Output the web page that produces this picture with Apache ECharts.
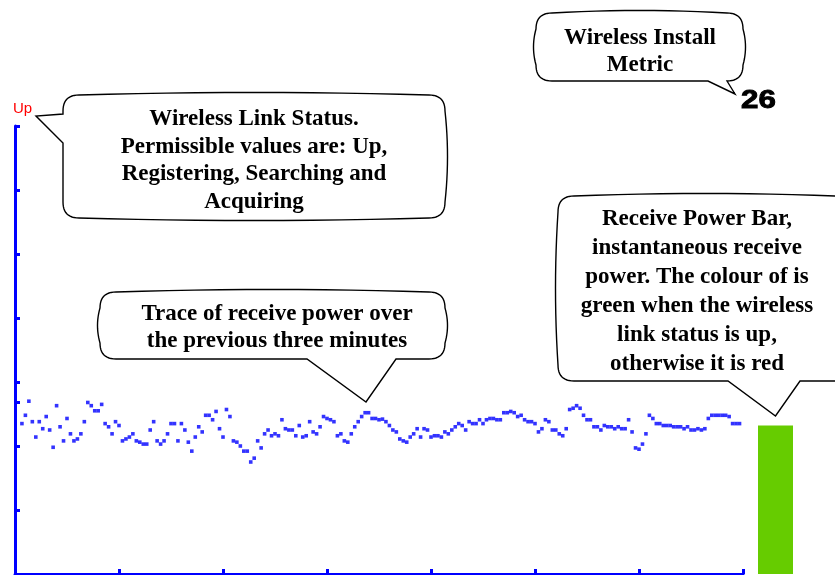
<!DOCTYPE html>
<html>
<head>
<meta charset="utf-8">
<script src="https://cdn.jsdelivr.net/npm/echarts@6/dist/echarts.min.js"></script>
<style>
html,body{margin:0;padding:0;background:#fff;}
#chart{width:835px;height:575px;}
</style>
</head>
<body>
<div id="chart"></div>
<script>
// ---- data ----
const linkStatus = 'Up';
const installMetric = 26;
// receive power trace (one sample per time step), axis units 0..70
const traceStart = 2;
const receivePowerTrace = [
  23.5,24.8,27.0,23.8,21.4,23.8,22.7,24.6,22.5,19.8,
  26.3,23.0,20.8,24.3,21.9,20.8,21.1,21.9,23.8,26.8,
  26.3,25.5,25.5,26.5,23.5,23.0,21.9,23.8,23.2,20.8,
  21.1,21.4,21.9,20.8,20.6,20.3,20.3,22.5,23.8,20.8,
  20.3,20.8,21.9,23.5,23.5,20.8,23.5,22.5,20.6,19.2,
  21.4,23.0,22.2,24.8,24.8,24.1,25.4,22.7,21.4,25.7,
  24.6,20.8,20.6,20.0,19.2,19.2,17.5,18.1,20.8,19.7,
  21.9,22.5,21.6,21.9,21.6,24.1,22.7,22.5,22.5,21.6,
  23.2,21.4,21.6,23.8,22.2,21.9,23.0,24.6,24.3,24.1,
  23.8,21.6,21.9,20.8,20.6,21.9,23.0,23.8,24.6,25.2,
  25.2,24.3,24.3,24.1,24.2,23.8,23.2,22.5,22.2,21.1,
  20.8,20.6,21.4,21.9,22.7,21.4,22.7,22.5,21.4,21.6,
  21.6,21.4,22.2,21.9,22.5,23.0,23.5,23.2,22.5,23.8,
  23.5,23.5,24.1,23.5,24.1,24.3,24.3,24.1,24.1,25.2,
  25.2,25.4,25.2,24.6,24.8,24.1,23.8,23.8,23.5,22.2,
  22.7,24.1,23.8,22.5,22.5,21.9,21.6,22.7,25.7,25.9,
  26.3,25.9,24.8,24.1,24.1,23.0,23.0,22.5,23.2,23.0,
  23.0,22.7,23.0,22.7,22.7,24.1,22.2,19.7,19.5,20.3,
  21.9,24.8,24.3,23.5,23.5,23.2,23.2,23.2,23.0,23.0,
  23.0,22.7,23.0,22.5,22.5,22.7,22.5,22.7,24.3,24.8,
  24.8,24.8,24.8,24.8,24.6,23.5,23.5,23.5
];
const receivePowerNow = 23.2;
const timeMin = 0, timeMax = 210, timeStep = 30;
const powerMin = 0, powerMax = 70, powerStep = 10;
const powerTicks = [0, 10, 20, 26.8, 30, 40, 50, 60, 70];

const calloutInstall = ['Wireless Install', 'Metric'];
const calloutStatus = ['Wireless Link Status.', 'Permissible values are: Up,', 'Registering, Searching and', 'Acquiring'];
const calloutTrace = ['Trace of receive power over', 'the previous three minutes'];
const calloutBar = ['Receive Power Bar,', 'instantaneous receive', 'power. The colour of is', 'green when the wireless', 'link status is up,', 'otherwise it is red'];

// ---- drawing helpers (callout outlines as sampled polygons) ----
function bubblePoints(x0, y0, x1, y1, r, b, tail) {
  const pts = [];
  let cur = [x0 + r, y0];
  pts.push(cur);
  function Q(cx, cy, x, y) {
    const s = cur;
    for (let k = 1; k <= 12; k++) {
      const t = k / 12, u = 1 - t;
      pts.push([u * u * s[0] + 2 * u * t * cx + t * t * x, u * u * s[1] + 2 * u * t * cy + t * t * y]);
    }
    cur = [x, y];
  }
  function L(x, y) { pts.push([x, y]); cur = [x, y]; }
  const mx = (x0 + x1) / 2, my = (y0 + y1) / 2;
  Q(mx, y0 - b, x1 - r, y0);
  Q(x1, y0, x1, y0 + r);
  Q(x1 + b, my, x1, y1 - r);
  Q(x1, y1, x1 - r, y1);
  if (tail.edge === 'bottom') {
    L(tail.to, y1); L(tail.tip[0], tail.tip[1]); L(tail.from, y1); L(x0 + r, y1);
  } else {
    Q(mx, y1 + b, x0 + r, y1);
  }
  Q(x0, y1, x0, y1 - r);
  if (tail.edge === 'left') {
    L(x0, tail.to); L(tail.tip[0], tail.tip[1]); L(x0, tail.from); L(x0, y0 + r);
  } else {
    Q(x0 - b, my, x0, y0 + r);
  }
  Q(x0, y0, x0 + r, y0);
  return pts;
}
function bubble(x0, y0, x1, y1, tail) {
  return {
    type: 'polygon', z: 10,
    shape: { points: bubblePoints(x0, y0, x1, y1, 16, 5, tail) },
    style: { fill: '#ffffff', stroke: '#000000', lineWidth: 1.4 }
  };
}
function calloutText(lines, x, y, lh) {
  return {
    type: 'text', z: 11, x: x, y: y,
    style: {
      text: lines.join('\n'), fill: '#000',
      font: 'bold 23px "Liberation Serif", "Times New Roman", serif',
      align: 'center', verticalAlign: 'middle', lineHeight: lh
    }
  };
}

const chart = echarts.init(document.getElementById('chart'), null, { renderer: 'canvas' });
const blue = '#0000ff';
chart.setOption({
  animation: false,
  backgroundColor: '#ffffff',
  grid: [
    { left: 15, top: 126, width: 728, height: 448, outerBoundsMode: 'none', containLabel: false },
    { left: 758, top: 126, width: 35, height: 448, outerBoundsMode: 'none', containLabel: false }
  ],
  xAxis: [
    {
      type: 'value', gridIndex: 0, min: timeMin, max: timeMax, interval: timeStep,
      axisLine: { show: true, lineStyle: { color: blue, width: 3 } },
      axisTick: { show: true, inside: true, length: 5, lineStyle: { color: blue, width: 3 } },
      axisLabel: { show: false }, splitLine: { show: false }
    },
    { type: 'category', gridIndex: 1, data: ['now'], show: false }
  ],
  yAxis: [
    {
      type: 'value', gridIndex: 0, min: powerMin, max: powerMax, interval: powerStep,
      axisLine: { show: true, lineStyle: { color: blue, width: 3 } },
      axisTick: { show: true, inside: true, length: 5, customValues: powerTicks, lineStyle: { color: blue, width: 3 } },
      axisLabel: { show: false }, splitLine: { show: false }
    },
    { type: 'value', gridIndex: 1, min: powerMin, max: powerMax, show: false }
  ],
  series: [
    {
      type: 'scatter', xAxisIndex: 0, yAxisIndex: 0,
      symbol: 'rect', symbolSize: 3.6,
      itemStyle: { color: blue },
      data: receivePowerTrace.map((v, i) => [i + traceStart, v])
    },
    {
      type: 'bar', xAxisIndex: 1, yAxisIndex: 1,
      barWidth: '100%',
      itemStyle: { color: '#66cc00' },
      data: [receivePowerNow]
    }
  ],
  graphic: [
    {
      type: 'text', x: 13, y: 109,
      style: { text: linkStatus, fill: '#ff0000', font: '15px "Liberation Sans", Arial, sans-serif', verticalAlign: 'middle' }
    },
    {
      type: 'text', x: 741, y: 101, scaleX: 1.25, originX: 0, originY: 0,
      style: { text: String(installMetric), fill: '#000', stroke: '#000', lineWidth: 0.9, font: 'bold 25px "Liberation Sans", Arial, sans-serif', verticalAlign: 'middle' }
    },
    bubble(536, 13, 743, 81, { edge: 'bottom', from: 708, to: 727, tip: [735, 94] }),
    calloutText(calloutInstall, 640, 51.5, 27),
    bubble(63, 95, 445, 218, { edge: 'left', from: 114, to: 143, tip: [36, 116] }),
    calloutText(calloutStatus, 254, 160.5, 27.7),
    bubble(100, 292, 445, 359, { edge: 'bottom', from: 307, to: 396, tip: [366, 402] }),
    calloutText(calloutTrace, 277, 327.5, 27),
    bubble(558, 196, 852, 381, { edge: 'bottom', from: 728, to: 800, tip: [775.5, 416] }),
    calloutText(calloutBar, 697, 292, 29)
  ]
});
</script>
</body>
</html>
